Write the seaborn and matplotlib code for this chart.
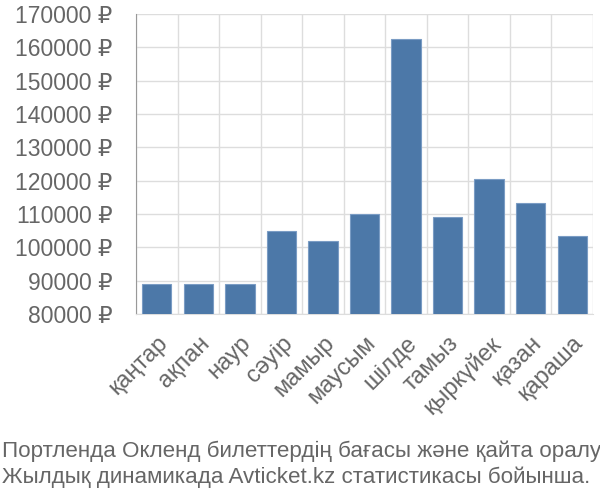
import numpy as np
import pandas as pd
import matplotlib
matplotlib.use('Agg')
import matplotlib.pyplot as plt
import seaborn as sns

# data
months = ['қаңтар', 'ақпан', 'наур', 'сәуір', 'мамыр', 'маусым',
          'шілде', 'тамыз', 'қыркүйек', 'қазан', 'қараша']
prices = [89000, 89000, 89000, 105000, 102000, 110000,
          162500, 109000, 120500, 113300, 103500]
y_ticks = [80000, 90000, 100000, 110000, 120000, 130000, 140000, 150000, 160000, 170000]
caption = ['Портленда Окленд билеттердің бағасы және қайта оралу',
           'Жылдық динамикада Avticket.kz статистикасы бойынша.']

df = pd.DataFrame({'month': months, 'price': prices})

sns.set_style('white')
plt.rcParams['font.family'] = ['Liberation Sans', 'DejaVu Sans']

grid_col = '#dddddd'
text_col = '#666666'

fig = plt.figure(figsize=(6, 5), dpi=100)
ax = fig.add_axes([0.227, 0.372, 0.761, 0.6])

sns.barplot(data=df, x='month', y='price', color='#4c78a8', saturation=1,
            width=0.7, edgecolor='#7a9cc4', linewidth=0.8, ax=ax, zorder=3)

ax.set_ylim(80000, 170000)
ax.set_xlim(-0.5, len(months) - 0.5)
ax.set_yticks(y_ticks)
ax.set_yticklabels([f'{v} ₽' for v in y_ticks])
ax.set_xlabel('')
ax.set_ylabel('')

# grid: horizontal at y ticks, vertical at band edges
ax.set_xticks(np.arange(-0.5, len(months)), minor=True)
ax.grid(axis='y', which='major', color=grid_col, lw=1, zorder=0)
ax.grid(axis='x', which='minor', color=grid_col, lw=1, zorder=0)
ax.grid(axis='x', which='major', visible=False)

ax.tick_params(axis='y', length=15, width=1, color=grid_col, pad=2,
               labelsize=16.5, labelcolor=text_col)
ax.tick_params(axis='x', which='major', length=0, pad=13,
               labelsize=17, labelcolor=text_col)
ax.tick_params(axis='x', which='minor', length=14, width=1, color=grid_col)
for lab in ax.get_xticklabels():
    lab.set_rotation(45)
    lab.set_ha('right')
    lab.set_rotation_mode('anchor')

for s in ['top', 'right']:
    ax.spines[s].set_visible(False)
ax.spines['bottom'].set_color(grid_col)
ax.spines['left'].set_color('#999999')

fig.text(0.003, 0.085, caption[0], fontsize=16.1, color=text_col, ha='left')
fig.text(0.003, 0.035, caption[1], fontsize=16.1, color=text_col, ha='left')

fig.savefig('out.png', dpi=100)
